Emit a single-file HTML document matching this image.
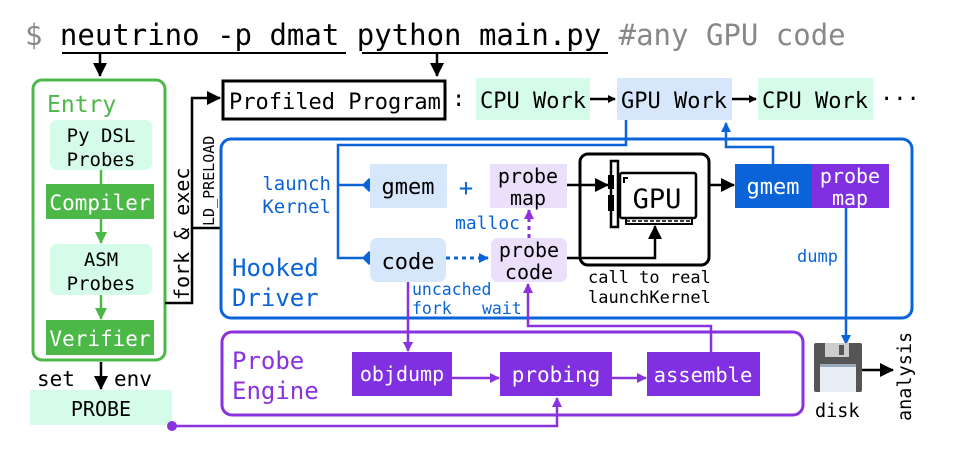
<!DOCTYPE html>
<html><head><meta charset="utf-8"><style>
html,body{margin:0;padding:0;background:#fff}
svg text{font-family:"DejaVu Sans Mono","Liberation Mono",monospace}
</style></head><body>
<svg width="964" height="453" viewBox="0 0 964 453" xmlns="http://www.w3.org/2000/svg">
<defs>
<marker id="ak" markerWidth="8" markerHeight="8" refX="7" refY="4" orient="auto" markerUnits="userSpaceOnUse" viewBox="0 0 8 8"><path d="M0,0 L8,4 L0,8Z" fill="#000"/></marker>
<marker id="ab" markerWidth="10" markerHeight="10" refX="9" refY="5" orient="auto" markerUnits="userSpaceOnUse" viewBox="0 0 10 10"><path d="M0,0 L10,5 L0,10Z" fill="#0a64d8"/></marker>
<marker id="ap" markerWidth="10" markerHeight="10" refX="9" refY="5" orient="auto" markerUnits="userSpaceOnUse" viewBox="0 0 10 10"><path d="M0,0 L10,5 L0,10Z" fill="#8a32e0"/></marker>
<marker id="ag" markerWidth="12" markerHeight="12" refX="11" refY="6" orient="auto" markerUnits="userSpaceOnUse" viewBox="0 0 12 12"><path d="M0,0 L12,6 L0,12Z" fill="#4cb848"/></marker>
<marker id="akb" markerWidth="14" markerHeight="14" refX="13" refY="7" orient="auto" markerUnits="userSpaceOnUse" viewBox="0 0 14 14"><path d="M0,0 L14,7 L0,14Z" fill="#000"/></marker>
</defs>

<text x="25" y="45" font-size="29" fill="#000"><tspan fill="#888">$</tspan> neutrino -p dmat python main.py <tspan fill="#888">#any GPU code</tspan></text>
<line x1="62" y1="53" x2="346" y2="53" stroke="#000" stroke-width="2"/>
<line x1="362" y1="53" x2="608" y2="53" stroke="#000" stroke-width="2"/>
<line x1="100" y1="53" x2="100" y2="76" stroke="#000" stroke-width="2.5" marker-end="url(#akb)"/>
<line x1="437" y1="53" x2="437" y2="76" stroke="#000" stroke-width="2.5" marker-end="url(#akb)"/>

<rect x="33" y="80" width="132" height="280" rx="9" fill="none" stroke="#4cb848" stroke-width="3"/>
<text x="47" y="112" font-size="23" fill="#4cb848">Entry</text>
<rect x="50" y="120" width="102" height="50" rx="7" fill="#d5fbe9"/>
<text x="101" y="142" font-size="19" text-anchor="middle">Py DSL</text>
<text x="101" y="166" font-size="19" text-anchor="middle">Probes</text>
<line x1="101" y1="170" x2="101" y2="184" stroke="#4cb848" stroke-width="2.5"/>
<rect x="46" y="184" width="108" height="35" fill="#4cb848"/>
<text x="100" y="210" font-size="21" fill="#fff" text-anchor="middle">Compiler</text>
<line x1="101" y1="219" x2="101" y2="243" stroke="#4cb848" stroke-width="2.5" marker-end="url(#ag)"/>
<rect x="50" y="244" width="102" height="51" rx="7" fill="#d5fbe9"/>
<text x="101" y="266" font-size="19" text-anchor="middle">ASM</text>
<text x="101" y="290" font-size="19" text-anchor="middle">Probes</text>
<line x1="101" y1="295" x2="101" y2="319" stroke="#4cb848" stroke-width="2.5" marker-end="url(#ag)"/>
<rect x="46" y="320" width="108" height="35" fill="#4cb848"/>
<text x="100" y="346" font-size="21" fill="#fff" text-anchor="middle">Verifier</text>

<text x="37" y="386" font-size="21">set</text>
<text x="114" y="386" font-size="21">env</text>
<line x1="101" y1="362" x2="101" y2="389" stroke="#000" stroke-width="2.5" marker-end="url(#akb)"/>
<rect x="30" y="390" width="142" height="35" fill="#d5fbe9"/>
<text x="101" y="416" font-size="20" text-anchor="middle">PROBE</text>
<circle cx="172" cy="426" r="5" fill="#8a32e0"/>
<polyline points="172,426 557,426 557,398" fill="none" stroke="#8a32e0" stroke-width="2.5" marker-end="url(#ap)"/>

<polyline points="165,303 192,303 192,98 220,98" fill="none" stroke="#000" stroke-width="2.5" marker-end="url(#akb)"/>
<line x1="192" y1="228" x2="222" y2="228" stroke="#000" stroke-width="2.5"/>
<text transform="translate(189,300) rotate(-90)" font-size="20">fork &amp; exec</text>
<text transform="translate(214,226) rotate(-90)" font-size="15">LD_PRELOAD</text>

<rect x="223" y="81" width="222" height="38" fill="#fff" stroke="#000" stroke-width="3"/>
<text x="229" y="109" font-size="22">Profiled Program</text>
<text x="452" y="106" font-size="22">:</text>
<rect x="476" y="78" width="114" height="42" fill="#d5fbe9"/>
<text x="533" y="108" font-size="22" text-anchor="middle">CPU Work</text>
<line x1="590" y1="99" x2="615" y2="99" stroke="#000" stroke-width="2.5" marker-end="url(#ak)"/>
<rect x="617" y="78" width="115" height="42" fill="#d6e6fb"/>
<text x="674" y="108" font-size="22" text-anchor="middle">GPU Work</text>
<line x1="732" y1="99" x2="756" y2="99" stroke="#000" stroke-width="2.5" marker-end="url(#ak)"/>
<rect x="758" y="78" width="115" height="42" fill="#d5fbe9"/>
<text x="815" y="108" font-size="22" text-anchor="middle">CPU Work</text>
<text x="880" y="106" font-size="22">···</text>

<rect x="221" y="139" width="691" height="179" rx="10" fill="none" stroke="#0a64d8" stroke-width="3"/>
<text x="232" y="276" font-size="24" fill="#0a64d8">Hooked</text>
<text x="232" y="306" font-size="24" fill="#0a64d8">Driver</text>
<polyline points="626,120 626,145 338,145 338,258 368,258" fill="none" stroke="#0a64d8" stroke-width="2.5"/>
<line x1="338" y1="185" x2="368" y2="185" stroke="#0a64d8" stroke-width="2.5"/>
<path d="M362,185 l7,-7 l7,7 l-7,7z" fill="#0a64d8"/>
<path d="M362,258 l7,-7 l7,7 l-7,7z" fill="#0a64d8"/>
<text x="331" y="190" font-size="19" fill="#0a64d8" text-anchor="end">launch</text>
<text x="331" y="213" font-size="19" fill="#0a64d8" text-anchor="end">Kernel</text>
<rect x="370" y="164" width="77" height="44" fill="#d6e6fb"/>
<text x="408" y="194" font-size="22" text-anchor="middle">gmem</text>
<text x="466" y="196" font-size="24" fill="#0a64d8" text-anchor="middle">+</text>
<rect x="490" y="164" width="77" height="44" fill="#ebe0fb"/>
<text x="528" y="183" font-size="20" text-anchor="middle">probe</text>
<text x="528" y="205" font-size="20" text-anchor="middle">map</text>
<rect x="370" y="238" width="76" height="44" rx="7" fill="#d6e6fb"/>
<text x="408" y="269" font-size="22" text-anchor="middle">code</text>
<line x1="446" y1="258" x2="488" y2="258" stroke="#0a64d8" stroke-width="3" stroke-dasharray="4,4" marker-end="url(#ab)"/>
<rect x="491" y="238" width="76" height="44" rx="7" fill="#ebe0fb"/>
<text x="529" y="257" font-size="20" text-anchor="middle">probe</text>
<text x="529" y="279" font-size="20" text-anchor="middle">code</text>
<line x1="529" y1="238" x2="529" y2="210" stroke="#8a32e0" stroke-width="3" stroke-dasharray="4,4" marker-end="url(#ap)"/>
<text x="455" y="229" font-size="18" fill="#0a64d8">malloc</text>

<rect x="580" y="154" width="129" height="111" rx="8" fill="none" stroke="#000" stroke-width="3"/>
<path d="M611,161 h7 v66 h-7 z" fill="none" stroke="#000" stroke-width="2.5"/>
<path d="M609,176 h4 v12 h-4z M609,196 h4 v14 h-4z" fill="none" stroke="#000" stroke-width="2"/>
<rect x="620" y="173" width="76" height="45" rx="2" fill="none" stroke="#000" stroke-width="2.5"/>
<path d="M624,183 v-5 h4" fill="none" stroke="#000" stroke-width="2"/>
<text x="657" y="208" font-size="27" text-anchor="middle">GPU</text>
<path d="M626,218 v6 h66 v-6" fill="none" stroke="#000" stroke-width="2"/>
<line x1="626" y1="221" x2="692" y2="221" stroke="#000" stroke-width="1.5" stroke-dasharray="4,2"/>
<line x1="567" y1="185" x2="608" y2="185" stroke="#000" stroke-width="2.5" marker-end="url(#akb)"/>
<polyline points="567,258 655,258 655,226" fill="none" stroke="#000" stroke-width="2.5" marker-end="url(#akb)"/>
<text x="588" y="283" font-size="17">call to real</text>
<text x="588" y="303" font-size="17">launchKernel</text>
<line x1="709" y1="185" x2="734" y2="185" stroke="#000" stroke-width="2.5" marker-end="url(#akb)"/>
<rect x="735" y="164" width="77" height="44" fill="#0a64d8"/>
<text x="773" y="194" font-size="22" fill="#fff" text-anchor="middle">gmem</text>
<rect x="812" y="164" width="77" height="44" fill="#8030e0"/>
<text x="850" y="183" font-size="20" fill="#fff" text-anchor="middle">probe</text>
<text x="850" y="205" font-size="20" fill="#fff" text-anchor="middle">map</text>
<polyline points="773,164 773,147 726,147 726,123" fill="none" stroke="#0a64d8" stroke-width="2.5" marker-end="url(#ab)"/>
<line x1="846" y1="208" x2="846" y2="344" stroke="#0a64d8" stroke-width="2.5" marker-end="url(#ab)"/>
<text x="797" y="262" font-size="17" fill="#0a64d8">dump</text>

<line x1="408" y1="282" x2="408" y2="351" stroke="#8a32e0" stroke-width="2.5" marker-end="url(#ap)"/>
<text x="412" y="295" font-size="16.5" fill="#0a64d8">uncached</text>
<text x="412" y="314" font-size="16.5" fill="#0a64d8">fork</text>
<text x="482" y="314" font-size="16.5" fill="#0a64d8">wait</text>
<polyline points="711,352 711,326 528,326 528,284" fill="none" stroke="#8a32e0" stroke-width="2.5" marker-end="url(#ap)"/>

<rect x="222" y="332" width="581" height="83" rx="10" fill="none" stroke="#8a32e0" stroke-width="3"/>
<text x="232" y="369" font-size="24" fill="#8a32e0">Probe</text>
<text x="232" y="399" font-size="24" fill="#8a32e0">Engine</text>
<rect x="352" y="352" width="100" height="44" fill="#8030e0"/>
<text x="402" y="381" font-size="20" fill="#fff" text-anchor="middle">objdump</text>
<line x1="452" y1="378" x2="499" y2="378" stroke="#8a32e0" stroke-width="2.5" marker-end="url(#ap)"/>
<rect x="500" y="352" width="112" height="44" fill="#8030e0"/>
<text x="556" y="382" font-size="21" fill="#fff" text-anchor="middle">probing</text>
<line x1="612" y1="378" x2="646" y2="378" stroke="#8a32e0" stroke-width="2.5" marker-end="url(#ap)"/>
<rect x="647" y="352" width="113" height="44" fill="#8030e0"/>
<text x="703" y="382" font-size="20.5" fill="#fff" text-anchor="middle">assemble</text>

<rect x="814" y="343" width="48" height="49" rx="2" fill="#555"/>
<rect x="825" y="343" width="24" height="14" fill="#ccc"/>
<rect x="839" y="345" width="5" height="10" fill="#555"/>
<rect x="820" y="364" width="36" height="28" fill="#e8eef4"/>
<rect x="820" y="364" width="36" height="3" fill="#9ab"/>
<line x1="862" y1="370" x2="893" y2="370" stroke="#000" stroke-width="2.5" marker-end="url(#akb)"/>
<text x="815" y="417" font-size="18.5">disk</text>
<text transform="translate(911,421) rotate(-90)" font-size="18.5">analysis</text>
</svg>
</body></html>
